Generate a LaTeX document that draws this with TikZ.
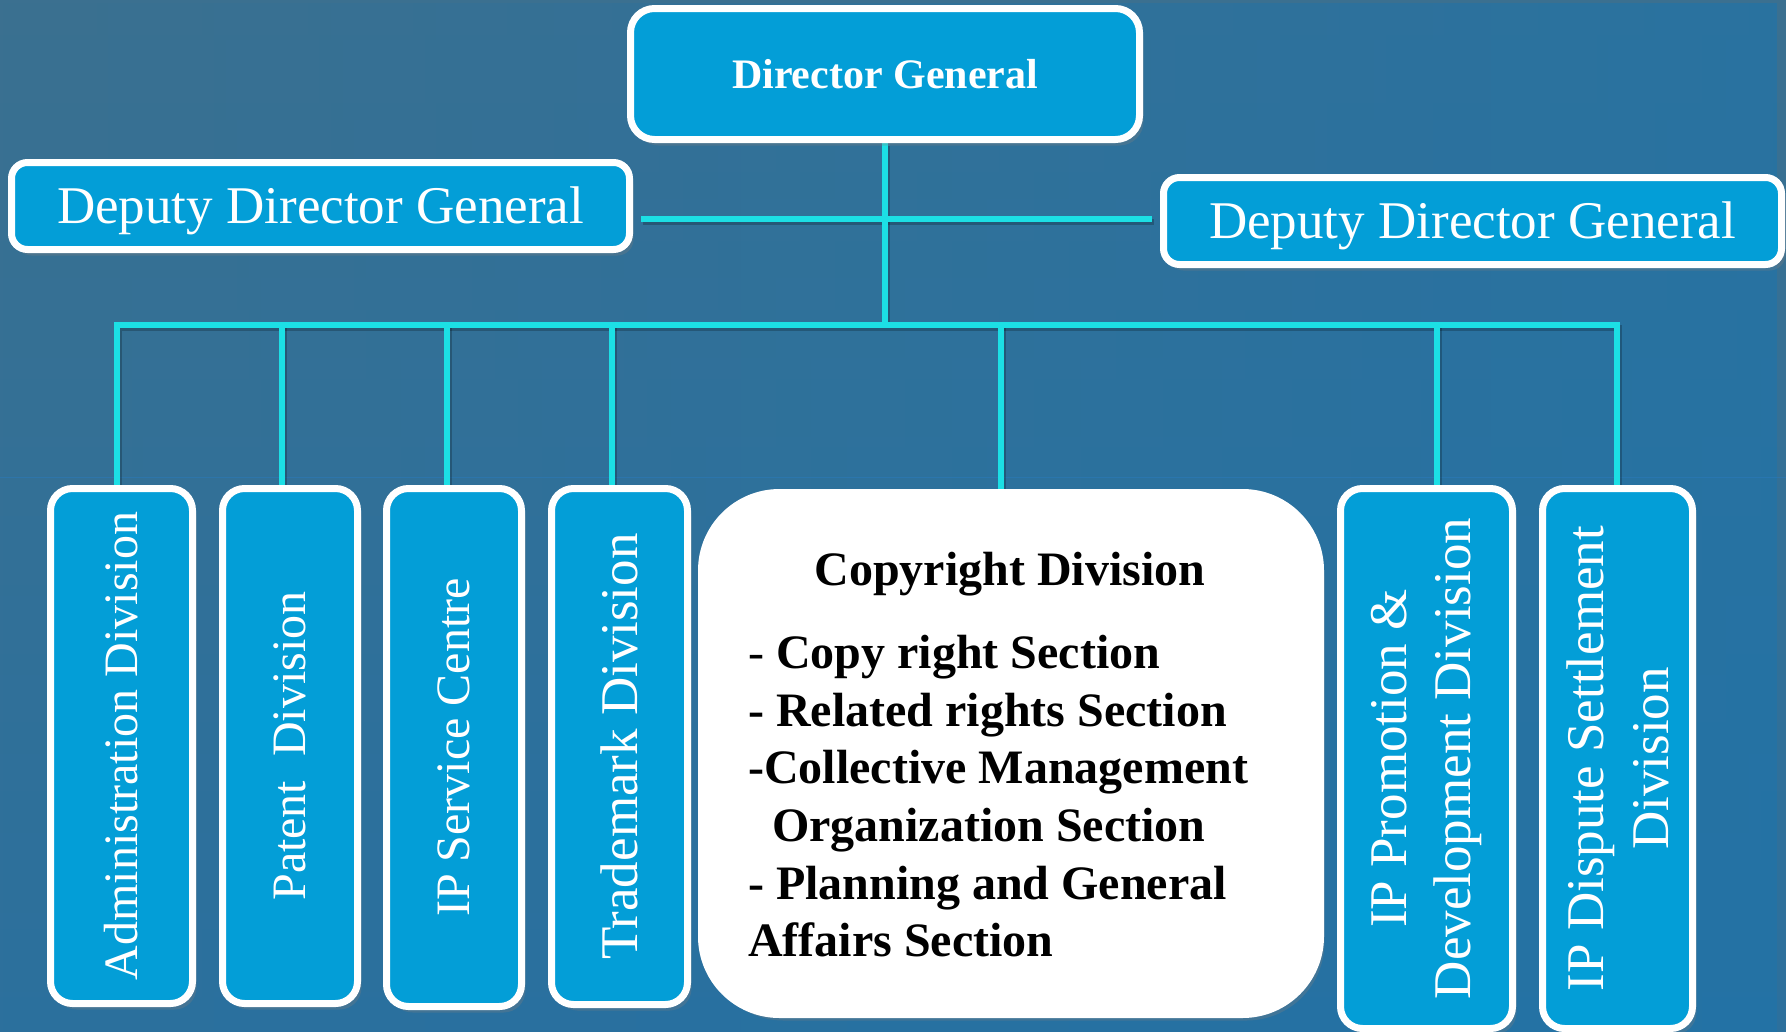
\documentclass[tikz,border=0pt]{standalone}
\usepackage{fontspec}
\setmainfont{Liberation Serif}
\usetikzlibrary{shadows,calc,fadings}
\pgfdeclarelayer{bg}
\pgfdeclarelayer{links}
\pgfsetlayers{bg,links,main}
\definecolor{boxblue}{HTML}{039ED7}
\definecolor{linkcyan}{HTML}{1CDFE5}
\definecolor{bgTop}{HTML}{3B7090}
\definecolor{bgBot}{HTML}{2C709D}
\definecolor{bgR}{HTML}{1E74AB}
\definecolor{bgline}{HTML}{2A7BBE}
\tikzfading[name=bgfade, left color=transparent!100, right color=transparent!40]
\tikzset{
  bluebox/.style={draw=white, line width=7pt, fill=boxblue, rounded corners=22pt,
    inner sep=0pt, text=white,
    drop shadow={shadow xshift=4pt, shadow yshift=-6pt, opacity=0.3}},
  whitebox/.style={draw=white, line width=7pt, fill=white, rounded corners=78pt,
    inner sep=0pt,
    drop shadow={shadow xshift=4pt, shadow yshift=-6pt, opacity=0.3}},
  vtext/.style={rotate=90, text=white, font=\fontsize{48}{56}\selectfont,
    inner sep=0pt, align=center},
  crtext/.style={text=black, font=\bfseries\fontsize{48}{56}\selectfont,
    inner sep=0pt, anchor=base west},
  conn/.style={draw=linkcyan, line width=5.5pt, line join=miter}
}
\newcommand\drawlinks{%
  \draw[conn] (b1 |- ADM.north) -- (b1) -- (b7) -- (b7 |- DISP.north);
  \draw[conn] (DG.south) -- (DG.south |- b1);
  \draw[conn] ($(LD.east |- dj)+(8,0)$) -- ($(RD.west |- dj)+(-8,0)$);
  \draw[conn] (b2) -- (b2 |- PAT.north);
  \draw[conn] (b3) -- (b3 |- IPS.north);
  \draw[conn] (b4) -- (b4 |- TM.north);
  \draw[conn] (b5) -- (b5 |- CR.north);
  \draw[conn] (b6) -- (b6 |- PROM.north);
}
\begin{document}
\begin{tikzpicture}[x=1pt, y=-1pt]
\useasboundingbox (0,0) rectangle (1786,1031);
\begin{pgfonlayer}{bg}
  \shade[top color=bgTop, bottom color=bgBot] (0,0) rectangle (1786,1031);
  \fill[bgR, path fading=bgfade] (0,0) rectangle (1786,1031);
  \draw[bgline, line width=1pt, opacity=0.5] (0,477) -- (1786,477);
\end{pgfonlayer}

% top level
\node[bluebox, minimum width=509pt, minimum height=131pt, rounded corners=24pt,
  font=\bfseries\fontsize{42}{48}\selectfont, text height=28pt, text depth=0pt]
  (DG) at (885,74) {Director General};
\node[bluebox, minimum width=618pt, minimum height=87pt, rounded corners=16pt,
  font=\fontsize{53}{60}\selectfont, text height=35pt, text depth=0pt]
  (LD) at (320.5,206) {Deputy Director General};
\node[bluebox, minimum width=618pt, minimum height=87pt, rounded corners=16pt,
  font=\fontsize{53}{60}\selectfont, text height=35pt, text depth=0pt]
  (RD) at (1472.5,221) {Deputy Director General};

% divisions
\node[bluebox, minimum width=142pt, minimum height=515pt] (ADM) at (121.5,746) {};
\node[vtext] (ADMt) at (ADM.center) {Administration Division};
\node[bluebox, minimum width=135pt, minimum height=515pt] (PAT) at (290,746) {};
\node[vtext] (PATt) at (PAT.center) {Patent\ \ Division};
\node[bluebox, minimum width=135pt, minimum height=518pt] (IPS) at (454,747.5) {};
\node[vtext] (IPSt) at (IPS.center) {IP Service Centre};
\node[bluebox, minimum width=136pt, minimum height=516pt] (TM) at (619.5,746.5) {};
\node[vtext, font=\fontsize{53}{62}\selectfont] (TMt) at (TM.center) {Trademark Division};
\node[bluebox, minimum width=172pt, minimum height=540pt] (PROM) at (1426.5,758.5) {};
\node[vtext, font=\fontsize{53}{64}\selectfont] (PROMt) at (PROM.center)
  {IP Promotion \&\\Development Division};
\node[bluebox, minimum width=150pt, minimum height=540pt] (DISP) at (1617.5,758.5) {};
\node[vtext, font=\fontsize{53}{65}\selectfont] (DISPt) at (DISP.center)
  {IP Dispute Settlement\\Division};

% copyright division
\node[whitebox, minimum width=619pt, minimum height=522pt] (CR) at (1011,753.5) {};
\node[crtext, anchor=base] (CRt) at (1010,585) {Copyright Division};
\node[crtext] (CR1) at (748,668) {{\mdseries -} Copy right Section};
\node[crtext] (CR2) at (748,726) {- Related rights Section};
\node[crtext] (CR3) at (748,783) {-Collective Management};
\node[crtext] (CR4) at (772,841) {Organization Section};
\node[crtext] (CR5) at (748,899) {- Planning and General};
\node[crtext] (CR6) at (748,956) {Affairs Section};

% junctions
\coordinate (dj) at (884,219);
\coordinate (b1) at (117,325);
\coordinate (b2) at (282,325);
\coordinate (b3) at (447,325);
\coordinate (b4) at (612,325);
\coordinate (b5) at (1001,325);
\coordinate (b6) at (1437,325);
\coordinate (b7) at (1617,325);

\begin{pgfonlayer}{links}
  \begin{scope}[transform canvas={shift={(2pt,-3pt)}},
      conn/.style={draw=black, opacity=0.22, line width=6.5pt, line join=miter}]
    \drawlinks
  \end{scope}
  \drawlinks
\end{pgfonlayer}
\end{tikzpicture}
\end{document}
